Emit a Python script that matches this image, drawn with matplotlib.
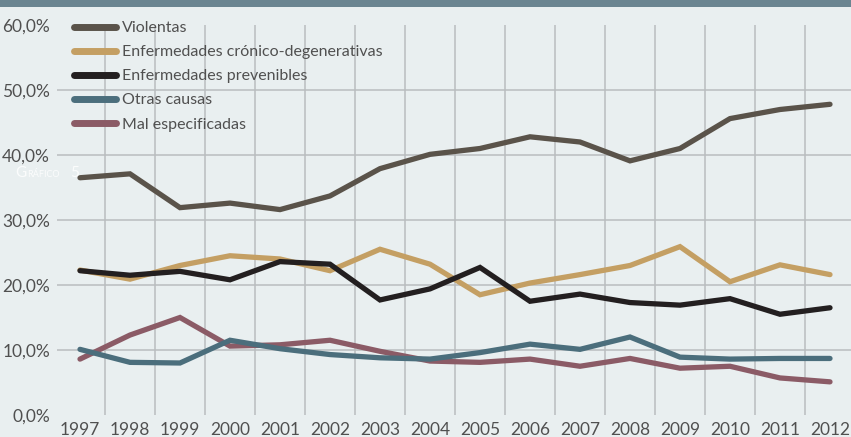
import matplotlib.pyplot as plt
from matplotlib.patches import Rectangle

years = list(range(1997, 2013))

violentas = [36.5, 37.1, 31.9, 32.6, 31.6, 33.7, 37.9, 40.1, 41.0, 42.8, 42.0, 39.1, 41.0, 45.6, 47.0, 47.8]
cronico = [22.3, 20.9, 23.0, 24.5, 24.0, 22.2, 25.5, 23.2, 18.5, 20.3, 21.6, 23.0, 25.9, 20.5, 23.1, 21.6]
prevenibles = [22.2, 21.5, 22.1, 20.8, 23.6, 23.2, 17.7, 19.4, 22.7, 17.5, 18.6, 17.3, 16.9, 17.9, 15.5, 16.5]
otras = [10.1, 8.1, 8.0, 11.5, 10.2, 9.3, 8.8, 8.6, 9.6, 10.9, 10.1, 12.0, 8.9, 8.6, 8.7, 8.7]
mal_esp = [8.6, 12.3, 15.0, 10.6, 10.8, 11.5, 9.8, 8.3, 8.1, 8.6, 7.5, 8.7, 7.2, 7.5, 5.7, 5.1]

labels = ['Violentas', 'Enfermedades crónico-degenerativas', 'Enfermedades prevenibles',
          'Otras causas', 'Mal especificadas']
colors = ['#5a534a', '#c49f63', '#231f20', '#4b6e7c', '#8b5b66']
y_ticks = [0, 10, 20, 30, 40, 50, 60]

plt.rcParams['font.family'] = ['Lato', 'DejaVu Sans']
bg = '#e9eff0'
text_col = '#505050'

fig = plt.figure(figsize=(8.51, 4.37), dpi=100)
fig.patch.set_facecolor(bg)
# dark band at the top
fig.patches.append(Rectangle((0, 0.984), 1, 0.016, transform=fig.transFigure,
                             facecolor='#6b8591', edgecolor='none'))

ax = fig.add_axes([57 / 851, 22 / 437, 1 - 57 / 851, 390 / 437])
ax.set_facecolor(bg)

series = [violentas, cronico, prevenibles, otras, mal_esp]
zorders = [5, 3, 4, 3.5, 3.2]
for vals, lab, col, z in zip(series, labels, colors, zorders):
    ax.plot(years, vals, color=col, lw=3.8, label=lab, zorder=z,
            solid_capstyle='round', solid_joinstyle='miter')

for v in y_ticks[1:-1]:
    ax.axhline(v, color='#b9bdbf', lw=1.1, zorder=1)
for yr in years[:-1]:
    ax.axvline(yr + 0.5, color='#b9bdbf', lw=1.1, zorder=1)

ax.set_xlim(1996.54, 2012.42)
ax.set_ylim(0, 60)
ax.set_yticks(y_ticks)
ax.set_yticklabels(['%d,0%%' % v for v in y_ticks])
ax.set_xticks(years)
ax.set_xticklabels([str(y) for y in years])
ax.tick_params(length=0, labelsize=12.5, labelcolor=text_col)
ax.tick_params(axis='y', pad=5)
ax.tick_params(axis='x', pad=5)
for s in ax.spines.values():
    s.set_visible(False)

leg = ax.legend(loc='upper left', bbox_to_anchor=(74 / 851, 1 - 21 / 437),
                bbox_transform=fig.transFigure, frameon=False,
                fontsize=11.5, handlelength=2.6, handletextpad=0.4,
                labelspacing=0.62, borderaxespad=0, borderpad=0)
for h in leg.legend_handles:
    h.set_linewidth(5)
    h.set_solid_capstyle('round')
for t in leg.get_texts():
    t.set_color(text_col)

# faint "Gráfico 5" caption in small caps
fig.text(15 / 851, 1 - 173 / 437, 'G', color='white', fontsize=11, va='center', alpha=0.85)
fig.text(27 / 851, 1 - 175 / 437, 'RÁFICO', color='white', fontsize=6.5, va='center', alpha=0.85)
fig.text(70 / 851, 1 - 173 / 437, '5', color='white', fontsize=11, va='center', alpha=0.85)

fig.savefig('out.png', dpi=100, facecolor=bg)
